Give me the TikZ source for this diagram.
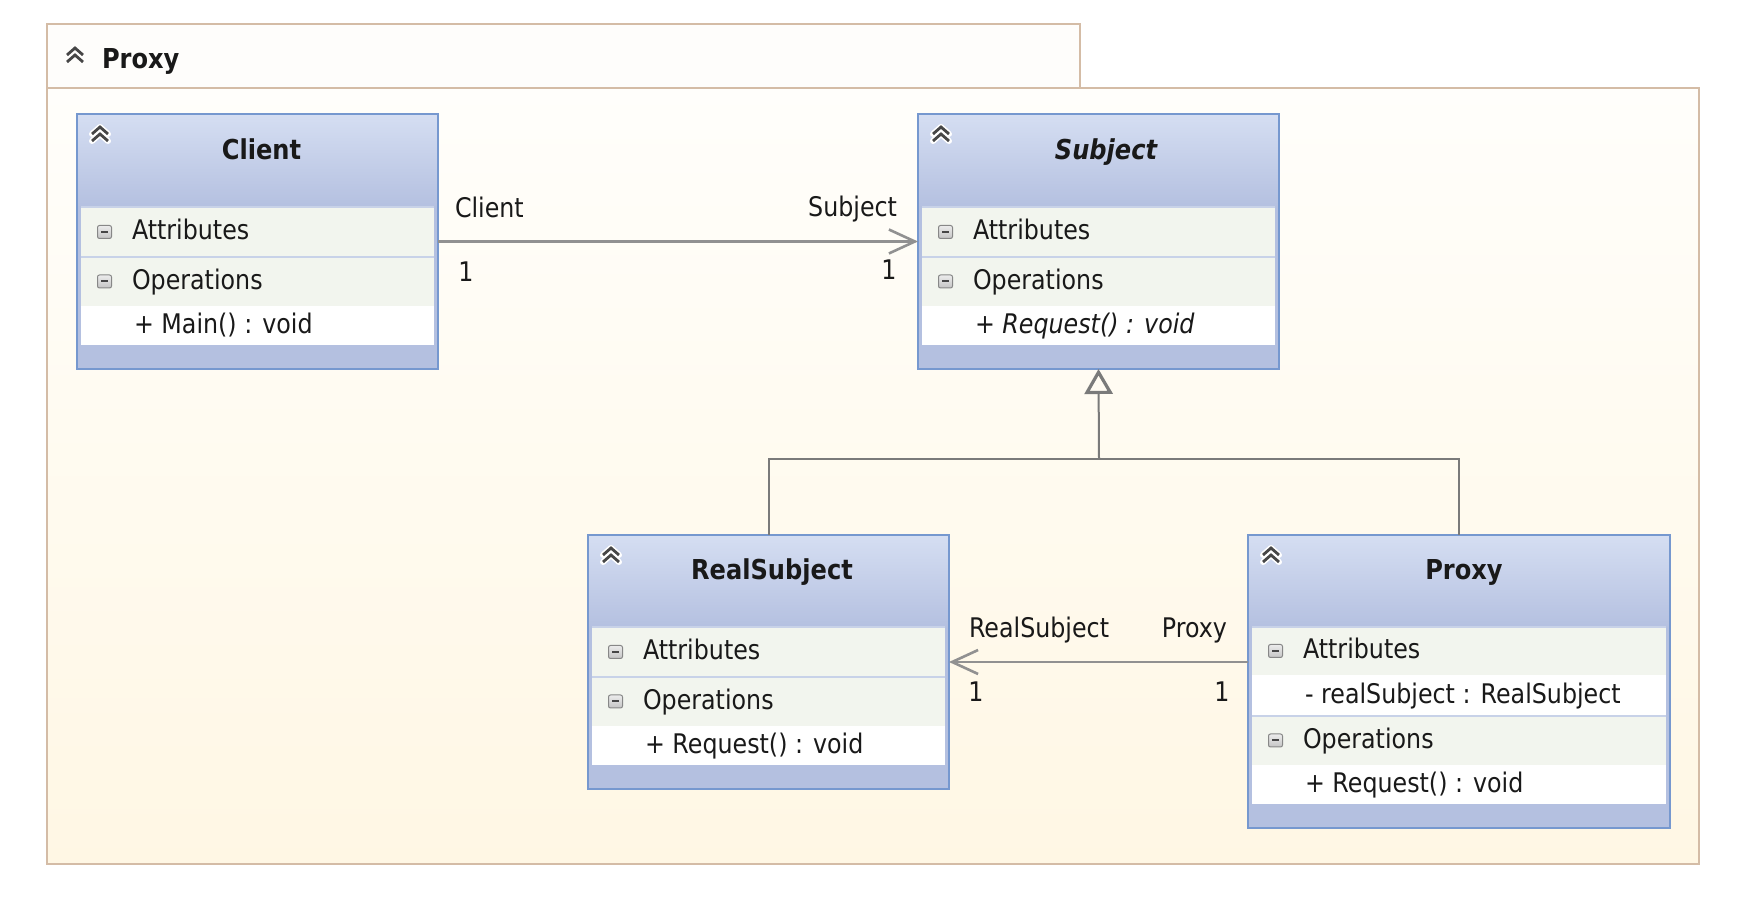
\documentclass[tikz,border=0pt]{standalone}
\usepackage{fontspec}
\setmainfont{DejaVu Sans}[FakeStretch=0.88]
\usetikzlibrary{arrows.meta,fit}

\definecolor{frameline}{RGB}{212,188,166}
\definecolor{framebot}{RGB}{255,247,228}
\definecolor{frametop}{RGB}{255,254,251}
\definecolor{tabfill}{RGB}{254,253,251}
\definecolor{clsborder}{RGB}{118,152,207}
\definecolor{hdtop}{RGB}{213,222,242}
\definecolor{hdbot}{RGB}{180,192,224}
\definecolor{secfill}{RGB}{242,245,238}
\definecolor{secline}{RGB}{200,210,232}
\definecolor{conn}{RGB}{145,145,145}
\definecolor{gencol}{RGB}{122,122,122}
\definecolor{txt}{RGB}{25,25,25}
\definecolor{chevcol}{RGB}{70,70,70}
\definecolor{mboxtop}{RGB}{236,236,236}
\definecolor{mboxbot}{RGB}{196,196,196}
\definecolor{mboxline}{RGB}{135,135,135}

\newcommand\regfont{\fontsize{13.5}{16}\selectfont}
\newcommand\titlefont{\fontsize{13.7}{16}\selectfont\bfseries}

% section row: l r t b label name
\newcommand\secrow[6]{%
  \fill[secfill] (#1+4,#3) rectangle (#2-4,#4);
  \draw[secline, line width=0.6pt] (#1+4,#3) -- (#2-4,#3);
  \draw[mboxline, line width=0.5pt, rounded corners=1pt, top color=mboxtop, bottom color=mboxbot]
    ({#1+27.5-7},{(#3+#4)/2-6.5}) rectangle ({#1+27.5+7},{(#3+#4)/2+6.5});
  \draw[chevcol, line width=1pt] ({#1+27.5-3.5},{(#3+#4)/2}) -- ({#1+27.5+3.5},{(#3+#4)/2});
  \node[txtstyle, anchor=base west] (#6) at ({#1+55},{(#3+#4)/2+8}) {#5};
}
% item row: l r t b text name
\newcommand\itemrow[6]{%
  \fill[white] (#1+4,#3) rectangle (#2-4,#4);
  \node[txtstyle, anchor=base west] (#6) at ({#1+57},{(#3+#4)/2+8}) {#5};
}
% class background: l t r b
\newcommand\clsbg[4]{%
  \fill[hdbot] (#1,#2) rectangle (#3,#4);
  \shade[top color=hdtop, bottom color=hdbot] (#1,#2) rectangle (#3,#2+93);
}
% double chevron: cx, upper peak y, halo
\newcommand\chevicon[3]{%
  \ifnum#3=1
  \foreach \cdy in {0,7}{%
    \draw[white, line width=3pt, line cap=round, line join=round]
      ({#1-8},{#2+\cdy+7}) -- ({#1},{#2+\cdy}) -- ({#1+8},{#2+\cdy+7});
  }%
  \fi
  \foreach \cdy in {0,7}{%
    \draw[chevcol, line width=1.4pt]
      ({#1-8},{#2+\cdy+7}) -- ({#1},{#2+\cdy}) -- ({#1+8},{#2+\cdy+7});
  }%
}

\begin{document}
\begin{tikzpicture}[x=0.5pt,y=-0.5pt,
  txtstyle/.style={inner sep=0pt, outer sep=0pt, text=txt, font=\regfont},
  titlestyle/.style={inner sep=0pt, outer sep=0pt, text=txt, font=\titlefont},
  clsnode/.style={inner sep=0pt, outer sep=0pt, draw=clsborder, line width=1pt},
  framestyle/.style={draw=frameline, line width=1pt},
  assoc/.style={draw=conn, line width=1.3pt, -{Straight Barb[length=13pt,width=12pt,line width=1.3pt]}},
  genline/.style={draw=gencol, line width=1pt},
  lbl/.style={inner sep=0pt, outer sep=0pt, text=txt, font=\regfont}]

\useasboundingbox[fill=white] (0,0) rectangle (1752,908);

% ---------- package frame ----------
\fill[tabfill] (47,24) rectangle (1080,88);
\draw[framestyle] (47,88) -- (47,24) -- (1080,24) -- (1080,88);
\shade[top color=frametop, bottom color=framebot] (47,88) rectangle (1699,864);
\node[fit={(47,88) (1699,864)}, inner sep=0pt, outer sep=0pt, framestyle] (pkg) {};
\chevicon{75}{48}{0}
\node[titlestyle, anchor=base west] (pkgtitle) at (102,69) {Proxy};

% ---------- Client ----------
\clsbg{77}{114}{438}{369}
\secrow{77}{438}{207}{257}{Attributes}{clientattr}
\secrow{77}{438}{257}{306}{Operations}{clientops}
\itemrow{77}{438}{306}{345}{+ Main() : void}{clientmain}
\chevicon{100}{127}{1}
\node[titlestyle, anchor=base] (clienttitle) at (261.5,160) {Client};
\node[fit={(77,114) (438,369)}, clsnode] (client) {};

% ---------- Subject ----------
\clsbg{918}{114}{1279}{369}
\secrow{918}{1279}{207}{257}{Attributes}{subjattr}
\secrow{918}{1279}{257}{306}{Operations}{subjops}
\itemrow{918}{1279}{306}{345}{\itshape + Request() : void}{subjreq}
\chevicon{941}{127}{1}
\node[titlestyle, anchor=base] (subjtitle) at (1106,160) {\itshape Subject};
\node[fit={(918,114) (1279,369)}, clsnode] (subject) {};

% ---------- RealSubject ----------
\clsbg{588}{535}{949}{789}
\secrow{588}{949}{627}{677}{Attributes}{realattr}
\secrow{588}{949}{677}{726}{Operations}{realops}
\itemrow{588}{949}{726}{765}{+ Request() : void}{realreq}
\chevicon{611}{548}{1}
\node[titlestyle, anchor=base] (realtitle) at (772,580) {RealSubject};
\node[fit={(588,535) (949,789)}, clsnode] (realsubject) {};

% ---------- Proxy ----------
\clsbg{1248}{535}{1670}{828}
\secrow{1248}{1670}{627}{675}{Attributes}{proxyattr}
\itemrow{1248}{1670}{675}{716}{- realSubject : RealSubject}{proxyfield}
\secrow{1248}{1670}{716}{765}{Operations}{proxyops}
\itemrow{1248}{1670}{765}{804}{+ Request() : void}{proxyreq}
\chevicon{1271}{548}{1}
\node[titlestyle, anchor=base] (proxytitle) at (1464,580) {Proxy};
\node[fit={(1248,535) (1670,828)}, clsnode] (proxy) {};

% ---------- connectors ----------
\draw[assoc] (client.east) -- (subject.west);
\draw[assoc] (proxy.west |- realsubject.east) -- (realsubject.east);

\coordinate (genjoin) at (1099,459);
\draw[genline] (realsubject.north) |- (genjoin) -| (proxy.north);
\draw[genline, -{Triangle[open, length=12.5pt, width=14pt, line width=1.6pt]}] (genjoin) -- (subject.south);

% ---------- connector labels ----------
\node[lbl, anchor=base west] (lclient) at (455,218) {Client};
\node[lbl, anchor=base] (lclientm) at (466,282) {1};
\node[lbl, anchor=base east] (lsubject) at (897,217) {Subject};
\node[lbl, anchor=base] (lsubjectm) at (889,280) {1};
\node[lbl, anchor=base west] (lreal) at (969,638) {RealSubject};
\node[lbl, anchor=base east] (lproxy) at (1227,638) {Proxy};
\node[lbl, anchor=base] (lrealm) at (976,702) {1};
\node[lbl, anchor=base] (lproxym) at (1222,702) {1};

\end{tikzpicture}
\end{document}
